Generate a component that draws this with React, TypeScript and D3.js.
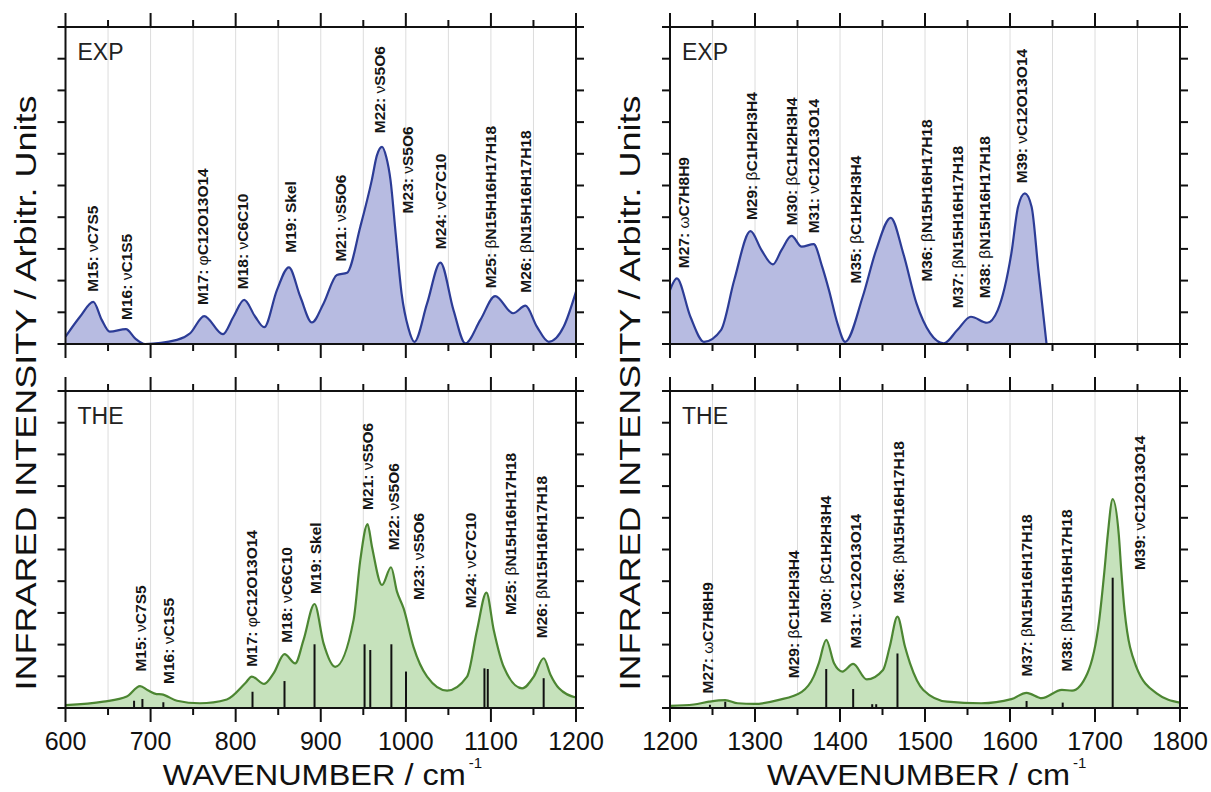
import React from 'react';
import * as d3 from 'd3';

// ---------- DATA ----------
// Experimental spectrum, 600-1200 cm-1
const expLeftX = [600, 617, 632.7, 642.6, 652, 671, 681.8, 693.5, 731, 746.5, 763, 785, 797.4, 810, 823, 833.5, 848.5, 862.5, 876, 889.6, 903.3, 919, 931, 946.5, 960, 966, 972, 977, 982, 988, 995, 1003, 1010, 1025, 1040.6, 1056, 1070, 1087.6, 1105, 1126, 1140.6, 1154, 1168, 1185.6, 1200];
const expLeftY = [0.23, 0.86, 1.33, 0.76, 0.39, 0.47, 0.18, 0.0, 0.13, 0.34, 0.88, 0.31, 0.86, 1.39, 0.86, 0.53, 1.7, 2.42, 1.49, 0.68, 1.28, 2.18, 2.25, 3.7, 5.17, 5.95, 6.22, 5.9, 5.17, 3.5, 1.6, 0.5, 0.07, 1.28, 2.57, 1.07, 0.02, 0.76, 1.51, 0.97, 1.21, 0.55, 0.07, 0.55, 1.65];

// Experimental spectrum, 1200-1800 cm-1
const expRightX = [1200, 1208, 1224, 1240, 1260, 1275.6, 1294.7, 1307.5, 1321, 1331.3, 1343, 1355, 1369, 1379, 1387, 1397, 1406, 1426.7, 1442.6, 1459.7, 1474.4, 1490, 1506, 1522, 1538, 1554, 1573, 1585.6, 1601.6, 1609.5, 1617.5, 1625.4, 1633.4, 1643];
const expRightY = [1.7, 2.07, 0.86, 0.07, 0.44, 2.02, 3.56, 2.97, 2.51, 2.97, 3.41, 3.07, 3.15, 2.44, 1.7, 0.65, 0.07, 1.49, 2.97, 3.98, 2.86, 1.28, 0.34, 0.02, 0.44, 0.86, 0.67, 1.07, 2.86, 4.33, 4.75, 4.33, 2.33, 0];

// Theoretical spectrum, 600-1200 cm-1
const theLeftX = [600, 644.5, 672, 687.6, 697.4, 707, 713, 731, 758, 789.6, 811.2, 819, 833.5, 844.5, 857.4, 870, 879.8, 892.7, 903.3, 917, 938.6, 946.5, 955, 960.2, 972, 982.6, 989.6, 997.4, 1009, 1025, 1048.5, 1072, 1083.7, 1094.7, 1103.3, 1115, 1136.7, 1150.4, 1162, 1170, 1180, 1200];
const theLeftY = [0.09, 0.2, 0.36, 0.69, 0.55, 0.44, 0.43, 0.23, 0.15, 0.27, 0.78, 0.99, 0.76, 1.09, 1.7, 1.41, 2.15, 3.28, 2.04, 1.3, 2.78, 4.67, 5.8, 5.09, 3.88, 4.44, 3.67, 3.14, 1.93, 0.99, 0.55, 0.99, 2.46, 3.64, 2.46, 1.3, 0.62, 0.99, 1.57, 1.05, 0.62, 0.33];

// Theoretical spectrum, 1200-1800 cm-1
const theRightX = [1200, 1228, 1246, 1265, 1279.6, 1299.5, 1327, 1355, 1369, 1375, 1383.8, 1393, 1402.8, 1415.5, 1431.5, 1450.6, 1458.5, 1467.6, 1476.5, 1482.4, 1498, 1526, 1566, 1601.6, 1619.5, 1637.4, 1661, 1673, 1691, 1705, 1711, 1715, 1720.8, 1728, 1731, 1734.7, 1748.6, 1772.5, 1800];
const theRightY = [0.07, 0.11, 0.2, 0.25, 0.15, 0.13, 0.25, 0.51, 0.99, 1.41, 2.15, 1.41, 1.15, 1.39, 0.9, 1.2, 1.93, 2.88, 1.93, 1.41, 0.57, 0.2, 0.15, 0.28, 0.48, 0.31, 0.57, 0.55, 1.09, 2.78, 4.3, 5.46, 6.59, 5.46, 4.3, 3.09, 1.3, 0.46, 0.17];

// Calculated stick spectra
const stickLeftX = [680.6, 690.4, 715, 819.8, 857.4, 892.7, 951.5, 958.2, 983, 1000.2, 1092.4, 1096.3, 1162];
const stickLeftY = [0.23, 0.28, 0.18, 0.51, 0.85, 2.01, 2.01, 1.83, 2.01, 1.15, 1.25, 1.23, 0.94];
const stickRightX = [1247, 1265, 1383.8, 1415.5, 1437.9, 1442.6, 1467.6, 1619.5, 1662, 1720.8];
const stickRightY = [0.1, 0.2, 1.23, 0.6, 0.12, 0.12, 1.72, 0.22, 0.17, 4.11];

// Mode assignments (text, wavenumber, intensity at label base)
const lblExpLeftText = ['M15: νC7S5', 'M16: νC1S5', 'M17: φC12O13O14', 'M18: νC6C10', 'M19: Skel', 'M21: νS5O6', 'M22: νS5O6', 'M23: νS5O6', 'M24: νC7C10', 'M25: βN15H16H17H18', 'M26: βN15H16H17H18'];
const lblExpLeftX = [631.5, 672, 761.4, 808.5, 864, 922.9, 969.2, 1001.4, 1040.6, 1099.4, 1140.6];
const lblExpLeftY = [1.65, 0.76, 1.23, 1.73, 2.88, 2.6, 6.65, 4.12, 2.99, 1.76, 1.62];

const lblExpRightText = ['M27: ωC7H8H9', 'M29: βC1H2H3H4', 'M30: βC1H2H3H4', 'M31: νC12O13O14', 'M35: βC1H2H3H4', 'M36: βN15H16H17H18', 'M37: βN15H16H17H18', 'M38: βN15H16H17H18', 'M39: νC12O13O14'];
const lblExpRightX = [1216, 1295.5, 1343.3, 1369, 1418, 1502, 1538, 1570, 1613.5];
const lblExpRightY = [2.39, 3.91, 3.75, 3.49, 1.91, 1.97, 1.13, 1.44, 5.07];

const lblTheLeftText = ['M15: νC7S5', 'M16: νC1S5', 'M17: φC12O13O14', 'M18: νC6C10', 'M19: Skel', 'M21: νS5O6', 'M22: νS5O6', 'M23: νS5O6', 'M24: νC7C10', 'M25: βN15H16H17H18', 'M26: βN15H16H17H18'];
const lblTheLeftX = [687.6, 721, 819, 860, 893.5, 954.4, 985.6, 1015, 1075.9, 1123, 1160];
const lblTheLeftY = [1.15, 0.76, 1.3, 2.06, 3.6, 6.25, 4.98, 3.41, 3.15, 2.93, 2.2];

const lblTheRightText = ['M27: ωC7H8H9', 'M29: βC1H2H3H4', 'M30: βC1H2H3H4', 'M31: νC12O13O14', 'M36: βN15H16H17H18', 'M37: βN15H16H17H18', 'M38: βN15H16H17H18', 'M39: νC12O13O14'];
const lblTheRightX = [1244, 1345, 1383, 1418, 1468.5, 1619.5, 1667, 1752.6];
const lblTheRightY = [0.46, 0.94, 2.67, 1.88, 3.3, 0.99, 1.15, 4.35];

const xTicksLeft = [600, 700, 800, 900, 1000, 1100, 1200];
const xTicksRight = [1200, 1300, 1400, 1500, 1600, 1700, 1800];
const yTicks = [0, 1, 2, 3, 4, 5, 6, 7, 8, 9, 10];

const FONT = 'Liberation Sans, Arial, Helvetica, sans-serif';

const zip = (xs: number[], ys: number[]) => xs.map((x, i) => [x, ys[i]] as [number, number]);

type PanelProps = {
  id: string;
  x0: number; x1: number; y0: number; y1: number;
  domain: [number, number];
  majors: number[];
  curve: [number, number][];
  sticks?: [number, number][];
  labels: { t: string; x: number; y: number }[];
  tag: string;
  fill: string; stroke: string;
  showTickLabels: boolean;
};

function Label({ x, y, t }: { x: number; y: number; t: string }) {
  const m = t.match(/^(.*?: )([νβφω])(.*)$/);
  return (
    <text transform={`translate(${x + 5.5},${y}) rotate(-90)`} fontFamily={FONT} fontSize={15.5} fontWeight="bold" fill="#151515">
      {m ? (
        <>
          <tspan>{m[1]}</tspan>
          <tspan fontWeight="normal">{m[2]}</tspan>
          <tspan>{m[3]}</tspan>
        </>
      ) : t}
    </text>
  );
}

function Panel(p: PanelProps) {
  const xs = d3.scaleLinear().domain(p.domain).range([p.x0, p.x1]);
  const ys = d3.scaleLinear().domain([0, 10]).range([p.y1, p.y0]);
  const area = d3.area<[number, number]>().x(d => xs(d[0])).y0(ys(0)).y1(d => ys(d[1])).curve(d3.curveMonotoneX);
  const line = d3.line<[number, number]>().x(d => xs(d[0])).y(d => ys(d[1])).curve(d3.curveMonotoneX);
  const allTicks = d3.range(p.domain[0], p.domain[1] + 1, 50);
  const isMajor = (v: number) => p.majors.includes(v);
  const tickLenMaj = 14, tickLenMin = 7, yTickLen = 8;
  return (
    <g>
      <defs>
        <clipPath id={`clip-${p.id}`}>
          <rect x={p.x0} y={p.y0} width={p.x1 - p.x0} height={p.y1 - p.y0} />
        </clipPath>
      </defs>
      {allTicks.map(v => (
        <line key={'g' + v} x1={xs(v)} x2={xs(v)} y1={p.y0} y2={p.y1} stroke="#dcdcdc" strokeWidth={1} />
      ))}
      <g clipPath={`url(#clip-${p.id})`}>
        <path d={area(p.curve) || ''} fill={p.fill} />
        {(p.sticks || []).map((s, i) => (
          <line key={'s' + i} x1={xs(s[0])} x2={xs(s[0])} y1={ys(0)} y2={ys(s[1])} stroke="#111" strokeWidth={2} />
        ))}
        <path d={line(p.curve) || ''} fill="none" stroke={p.stroke} strokeWidth={2.2} />
      </g>
      {p.labels.map((l, i) => (
        <Label key={'l' + i} x={xs(l.x)} y={ys(l.y)} t={l.t} />
      ))}
      <text x={p.x0 + 12} y={p.y0 + 33} fontFamily={FONT} fontSize={23} fill="#222">{p.tag}</text>
      {/* frame */}
      <rect x={p.x0} y={p.y0} width={p.x1 - p.x0} height={p.y1 - p.y0} fill="none" stroke="#111" strokeWidth={2} />
      {/* x ticks top & bottom, outward */}
      {allTicks.map(v => {
        const L = isMajor(v) ? tickLenMaj : tickLenMin;
        return (
          <g key={'t' + v}>
            <line x1={xs(v)} x2={xs(v)} y1={p.y0} y2={p.y0 - L} stroke="#111" strokeWidth={2} />
            <line x1={xs(v)} x2={xs(v)} y1={p.y1} y2={p.y1 + L} stroke="#111" strokeWidth={2} />
          </g>
        );
      })}
      {/* y ticks left & right, outward */}
      {yTicks.map(v => (
        <g key={'y' + v}>
          <line x1={p.x0} x2={p.x0 - yTickLen} y1={ys(v)} y2={ys(v)} stroke="#111" strokeWidth={2} />
          <line x1={p.x1} x2={p.x1 + yTickLen} y1={ys(v)} y2={ys(v)} stroke="#111" strokeWidth={2} />
        </g>
      ))}
      {p.showTickLabels && p.majors.map(v => (
        <text key={'tl' + v} x={xs(v)} y={p.y1 + 42} textAnchor="middle" fontFamily={FONT} fontSize={25} fill="#111">{v}</text>
      ))}
    </g>
  );
}

function XTitle({ cx }: { cx: number }) {
  const start = cx - 158;
  return (
    <g fontFamily={FONT} fill="#111">
      <text x={start} y={785} fontSize={29} textLength={303} lengthAdjust="spacingAndGlyphs">WAVENUMBER / cm</text>
      <text x={start + 306} y={768} fontSize={15}>-1</text>
    </g>
  );
}

function YTitle({ x }: { x: number }) {
  return (
    <text transform={`translate(${x},393) rotate(-90)`} textAnchor="middle" fontFamily={FONT} fontSize={29} fill="#111" textLength={595} lengthAdjust="spacingAndGlyphs">
      INFRARED INTENSITY / Arbitr. Units
    </text>
  );
}

const mkLabels = (t: string[], x: number[], y: number[]) => t.map((s, i) => ({ t: s, x: x[i], y: y[i] }));

export default function App() {
  const L = { x0: 65.5, x1: 576 };
  const R = { x0: 670, x1: 1180 };
  const T = { y0: 27, y1: 344 };
  const B = { y0: 391, y1: 708 };
  const expFill = '#b7bbe1', expStroke = '#2c3c96';
  const theFill = '#c6e2bc', theStroke = '#4c8632';
  return (
    <svg width={1211} height={792} style={{ position: 'absolute', left: 0, top: 0, background: '#fff' }}>
      <rect x={0} y={0} width={1211} height={792} fill="#fff" />
      <Panel id="tl" {...L} {...T} domain={[600, 1200]} majors={xTicksLeft} curve={zip(expLeftX, expLeftY)}
        labels={mkLabels(lblExpLeftText, lblExpLeftX, lblExpLeftY)} tag="EXP" fill={expFill} stroke={expStroke} showTickLabels={false} />
      <Panel id="bl" {...L} {...B} domain={[600, 1200]} majors={xTicksLeft} curve={zip(theLeftX, theLeftY)}
        sticks={zip(stickLeftX, stickLeftY)}
        labels={mkLabels(lblTheLeftText, lblTheLeftX, lblTheLeftY)} tag="THE" fill={theFill} stroke={theStroke} showTickLabels={true} />
      <Panel id="tr" {...R} {...T} domain={[1200, 1800]} majors={xTicksRight} curve={zip(expRightX, expRightY)}
        labels={mkLabels(lblExpRightText, lblExpRightX, lblExpRightY)} tag="EXP" fill={expFill} stroke={expStroke} showTickLabels={false} />
      <Panel id="br" {...R} {...B} domain={[1200, 1800]} majors={xTicksRight} curve={zip(theRightX, theRightY)}
        sticks={zip(stickRightX, stickRightY)}
        labels={mkLabels(lblTheRightText, lblTheRightX, lblTheRightY)} tag="THE" fill={theFill} stroke={theStroke} showTickLabels={true} />
      <YTitle x={36} />
      <YTitle x={640} />
      <XTitle cx={(L.x0 + L.x1) / 2} />
      <XTitle cx={(R.x0 + R.x1) / 2} />
    </svg>
  );
}
